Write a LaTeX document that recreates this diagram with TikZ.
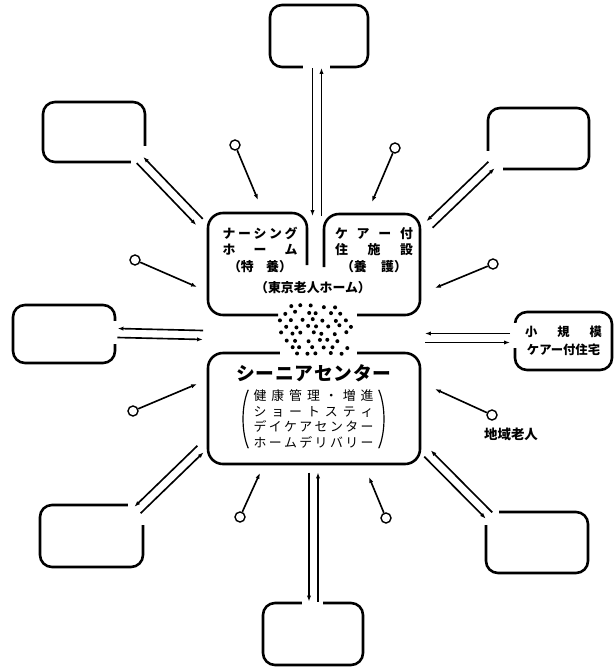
\documentclass[tikz,border=0pt]{standalone}
\usepackage{fontspec}
\newfontfamily\jp{Noto Sans CJK JP}
\usetikzlibrary{calc, arrows.meta}
\newlength\px
\setlength\px{0.03cm}
\tikzset{
  satbox/.style={draw, line width=2.2pt, rounded corners=0.36cm, minimum width=102\px, minimum height=61\px},
  hubline/.style={line width=2.2pt, rounded corners=0.45cm},
  link/.style={line width=1.4pt, -{Latex[length=5pt,width=3.6pt]}},
  elder/.style={circle, draw, line width=1.2pt, inner sep=0pt, minimum size=10\px},
  gap/.style={fill=white},
  lbl/.style={font=\jp\bfseries\fontsize{11}{14}\selectfont, align=center, inner sep=0pt}
}
\newcommand{\evenbox}[2]{\makebox[#1\px][s]{#2}}
\newcommand{\dlink}[2]{%
  \draw[link] ($(#1)!0.135cm!-90:(#2)$) -- ($(#2)!0.135cm!90:(#1)$);
  \draw[link] ($(#2)!0.135cm!-90:(#1)$) -- ($(#1)!0.135cm!90:(#2)$);}

\begin{document}
\begin{tikzpicture}[x=0.03cm, y=-0.03cm]
  \useasboundingbox (0,0) rectangle (614,670);
  % outer boxes
  \foreach \n/\x/\y/\w/\h in {top/319/36/98/62, ul/94/132/102/60, ur/538.5/138.5/101/61,
      lm/64/334/102/58, ll/91.5/536/103/62, lr/537/542.5/102/61, bot/313/634/100/62}
    \node[satbox, minimum width=\w\px, minimum height=\h\px] (\n) at (\x,\y) {};
  \node[satbox, minimum width=97\px, minimum height=58\px, align=center,
        font=\jp\bfseries\fontsize{10.5}{15}\selectfont] (sm) at (563.5,341)
        {\evenbox{77}{小\hfill 規\hfill 模}\\ケアー付住宅};
  % tokyo home
  \draw[hubline] (307,265) -- (307,213) -- (208,213) -- (208,315) -- (278,315);
  \draw[hubline] (357,315) -- (420,315) -- (420,214) -- (324,214) -- (324,267);
  \node[lbl] (nurs) at (260,250) {\evenbox{75}{ナ\hfill ー\hfill シ\hfill ン\hfill グ}\\
    \evenbox{75}{ホ\hfill ー\hfill ム}\\ \evenbox{64}{（特\hfill 養）}};
  \node[lbl] (care) at (374,250) {\evenbox{78}{ケ\hfill ア\hfill ー\hfill 付}\\
    \evenbox{78}{住\hfill 施\hfill 設}\\ \evenbox{66}{（養\hfill 護）}};
  \node[lbl] (tokyo) at (313,288) {（東京老人ホーム）};
  % senior center
  \node[draw, line width=2.2pt, rounded corners=0.45cm, minimum width=212\px,
        minimum height=111\px] (senior) at (314,408.5) {};
  \foreach \a/\b/\c/\d in {303/60/330/73, 131/146/150/168, 482/151/503/175, 108/321/122/344,
      508/323/522/348, 128/498/150/525, 480/505/499/525, 302/596/323/610, 280/346/357/360}
    \fill[gap] (\a,\b) rectangle (\c,\d);
  \node[lbl, font=\jp\bfseries\fontsize{16}{18}\selectfont] (title) at (314,373)
    {\evenbox{155}{シ\hfill ー\hfill ニ\hfill ア\hfill セ\hfill ン\hfill タ\hfill ー}};
  \node[lbl, font=\jp\fontsize{11}{13.2}\selectfont] (svc) at (313.5,419)
    {\evenbox{120}{健\hfill 康\hfill 管\hfill 理\hfill ・\hfill 増\hfill 進}\\
     \evenbox{120}{シ\hfill ョ\hfill ー\hfill ト\hfill ス\hfill テ\hfill ィ}\\
     \evenbox{120}{デ\hfill イ\hfill ケ\hfill ア\hfill セ\hfill ン\hfill タ\hfill ー}\\
     \evenbox{120}{ホ\hfill ー\hfill ム\hfill デ\hfill リ\hfill バ\hfill リ\hfill ー}};
  \draw[line width=1pt] ([xshift=-5\px]svc.north west) .. controls +(-7\px,-16\px) and +(-7\px,16\px) .. ([xshift=-5\px]svc.south west);
  \draw[line width=1pt] ([xshift=5\px]svc.north east) .. controls +(7\px,-16\px) and +(7\px,16\px) .. ([xshift=5\px]svc.south east);
  % crowd
  \pgfmathsetseed{11}
  \foreach \j in {0,...,7}{
    \pgfmathsetmacro\yy{306+6.8*\j}
    \pgfmathsetmacro\hw{41-0.5*abs(\yy-330)}
    \foreach \i in {-4,...,4}{
      \pgfmathsetmacro\xx{315+\i*11+mod(\j,2)*5.5-2.75+2.5*rand}
      \pgfmathtruncatemacro\ok{abs(\xx-315)<\hw}
      \ifnum\ok=1 \fill (\xx,\yy+1.5*rand) circle[radius=2\px]; \fi
    }
  }
  % two-way links
  \foreach \n/\sx/\sy/\hx/\hy in {top/317/68/317/216, ul/140/160/199.5/222,
      ur/491.5/165/429.5/224.5, lm/117.5/333/203/335, sm/510/338/425/338,
      ll/137.5/510/200.5/449, lr/489/515.5/427.5/453.5, bot/313.5/601.5/313.5/472.5}{
    \coordinate (\n-s) at (\sx,\sy);
    \coordinate (\n-h) at (\hx,\hy);
    \dlink{\n-s}{\n-h}
  }
  % elderly
  \foreach \n/\ex/\ey/\tx/\ty in {1/235/145/258/200, 2/135/260/197/287, 3/395/148/372/202,
      4/493/264/435/288, 5/133/411/197/384, 6/492/415/435/389, 7/240/517/260/473, 8/386/518/369/477}{
    \node[elder] (e\n) at (\ex,\ey) {};
    \coordinate (t\n) at (\tx,\ty);
    \draw[link] (e\n) -- (t\n);
  }
  \node[lbl, font=\jp\bfseries\fontsize{11.5}{14}\selectfont] (local) at (511,434) {地域老人};
\end{tikzpicture}
\end{document}
